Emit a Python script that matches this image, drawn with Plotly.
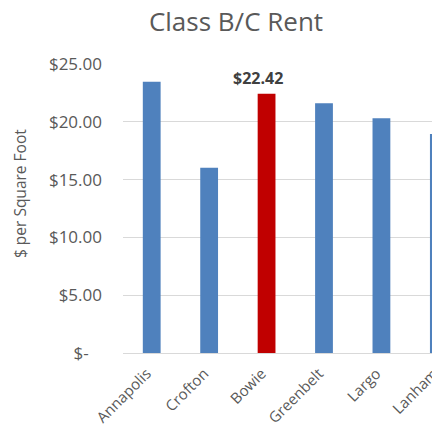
import plotly.graph_objects as go

categories = ["Annapolis", "Crofton", "Bowie", "Greenbelt", "Largo", "Lanham"]
rents = [23.47, 16.02, 22.42, 21.6, 20.3, 18.94]
highlight = "Bowie"
y_tickvals = [0, 5, 10, 15, 20, 25]
y_ticktext = ["$-\u00a0\u00a0\u00a0", "$5.00", "$10.00", "$15.00", "$20.00", "$25.00"]

BLUE = "#4f81bd"
RED = "#c00000"
colors = [RED if c == highlight else BLUE for c in categories]

# page has an 8px body margin; figure is sized so it ends at the window edge
W, H = 432, 421
ML, MR, MT, MB = 115, 0, 56, 76
FONT = "Open Sans"

fig = go.Figure(
    go.Bar(
        x=categories,
        y=rents,
        marker=dict(color=colors, line=dict(width=0)),
        width=0.31,
        hoverinfo="x+y",
    )
)

hi = categories.index(highlight)
fig.add_annotation(
    x=categories[hi], y=rents[hi], xref="x", yref="y",
    text="<b>$%.2f</b>" % rents[hi], showarrow=False,
    yanchor="bottom", xanchor="center", xshift=-9, yshift=3,
    font=dict(family=FONT, size=16, color="#404040"),
)
fig.add_annotation(
    x=(12 - ML) / (W - ML - MR), y=0.55, xref="paper", yref="paper",
    text="$ per Square Foot", textangle=-90, showarrow=False,
    xanchor="center", yanchor="middle",
    font=dict(family=FONT, size=15.5, color="#595959"),
)

fig.update_layout(
    width=W, height=H,
    margin=dict(l=ML, r=MR, t=MT, b=MB, autoexpand=False),
    paper_bgcolor="white", plot_bgcolor="white",
    showlegend=False,
    font=dict(family=FONT, color="#595959"),
    title=dict(
        text="Class B/C Rent", x=228 / W, xref="container", xanchor="center",
        y=1 - 14 / H, yref="container", yanchor="middle",
        font=dict(family=FONT, size=26, color="#595959"),
    ),
    xaxis=dict(
        range=[-0.5, 5.02], showgrid=False, zeroline=False, showline=False,
        tickangle=-45, ticks="", ticklabelstandoff=8, ticklabelshift=-5,
        tickfont=dict(family=FONT, size=15, color="#595959"),
        fixedrange=True,
    ),
    yaxis=dict(
        range=[0, 25], tickvals=y_tickvals, ticktext=y_ticktext,
        showgrid=True, gridcolor="#d9d9d9", gridwidth=1,
        zeroline=True, zerolinecolor="#d9d9d9", zerolinewidth=1,
        showline=False, ticks="", ticklabelstandoff=20,
        tickfont=dict(family=FONT, size=17, color="#595959"),
        fixedrange=True,
    ),
)

fig.write_html("out.html")
